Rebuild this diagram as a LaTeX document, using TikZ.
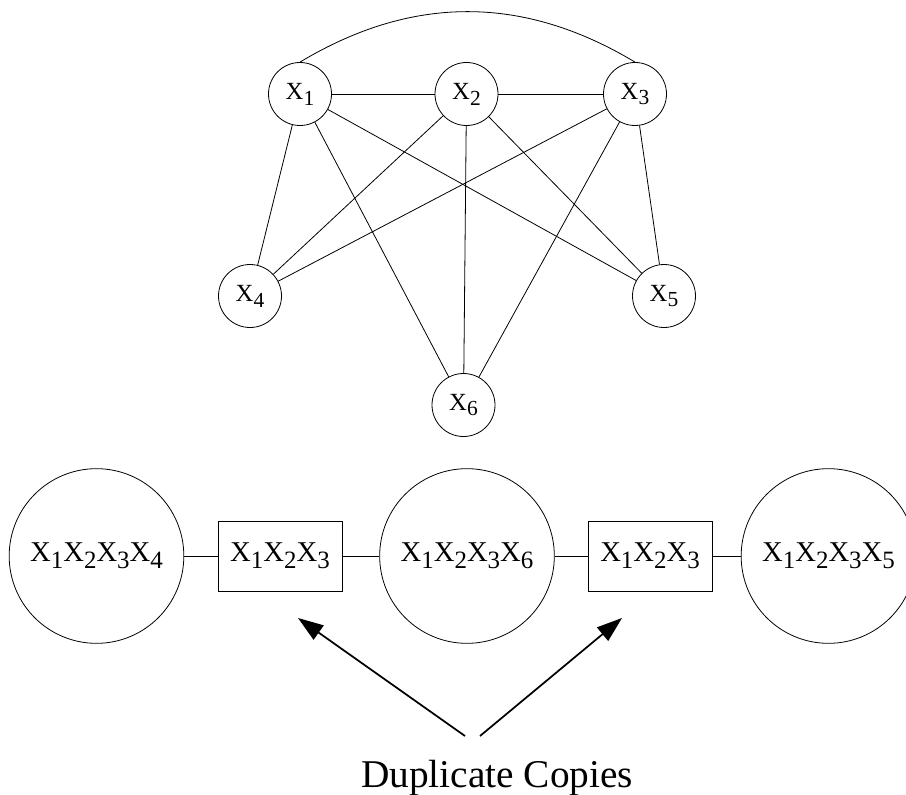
\documentclass[tikz,border=0pt]{standalone}
\usepackage{fontspec}
\setmainfont{Liberation Serif}
\usepackage{graphicx}
\usetikzlibrary{arrows.meta}
\newcommand{\xs}[1]{X\raisebox{-.24em}{\scalebox{.87}{#1}}}

\begin{document}
\begin{tikzpicture}[x=0.75pt,y=0.75pt,line width=0.6pt,
  var/.style={circle, draw, minimum size=47.25pt, inner sep=0pt, font=\fontsize{18.5}{22}\selectfont},
  clique/.style={circle, draw, minimum size=131pt, inner sep=0pt, font=\fontsize{21.5}{24}\selectfont},
  sepset/.style={rectangle, draw, minimum width=93pt, minimum height=52.5pt, inner sep=0pt, font=\fontsize{21.5}{24}\selectfont},
  pfeil/.style={line width=1.3pt, -{Triangle[length=19pt,width=13pt]}}]
\useasboundingbox (0,0) rectangle (906,794);
\node [var] (x1) at (300,700) {\xs{1}};
\node [var] (x2) at (466.5,700) {\xs{2}};
\node [var] (x3) at (635,700) {\xs{3}};
\node [var] (x4) at (250,498) {\xs{4}};
\node [var] (x5) at (664,498) {\xs{5}};
\node [var] (x6) at (463.5,389) {\xs{6}};
\draw (x1) -- (x2);
\draw (x2) -- (x3);
\draw (x1.north) to[bend left=31] (x3.north);
\draw (x1) -- (x4);
\draw (x1) -- (x6);
\draw (x1) -- (x5);
\draw (x2) -- (x4);
\draw (x2) -- (x6);
\draw (x2) -- (x5);
\draw (x3) -- (x4);
\draw (x3) -- (x6);
\draw (x3) -- (x5);
\node [clique] (c1) at (96.5,238) {\xs{1}\xs{2}\xs{3}\xs{4}};
\node [sepset] (s1) at (280,238) {\xs{1}\xs{2}\xs{3}};
\node [clique] (c2) at (467,238) {\xs{1}\xs{2}\xs{3}\xs{6}};
\node [sepset] (s2) at (650,238) {\xs{1}\xs{2}\xs{3}};
\node [clique] (c3) at (828.5,238) {\xs{1}\xs{2}\xs{3}\xs{5}};
\draw (c1) -- (s1);
\draw (s1) -- (c2);
\draw (c2) -- (s2);
\draw (s2) -- (c3);
\coordinate (a1) at (465,58);
\coordinate (a2) at (480,58);
\coordinate (t1) at (298,176);
\coordinate (t2) at (622,176);
\draw [pfeil] (a1) -- (t1);
\draw [pfeil] (a2) -- (t2);
\node [anchor=base, font=\fontsize{29.5}{34}\selectfont] (dup) at (497,7) {Duplicate Copies};
\end{tikzpicture}
\end{document}
